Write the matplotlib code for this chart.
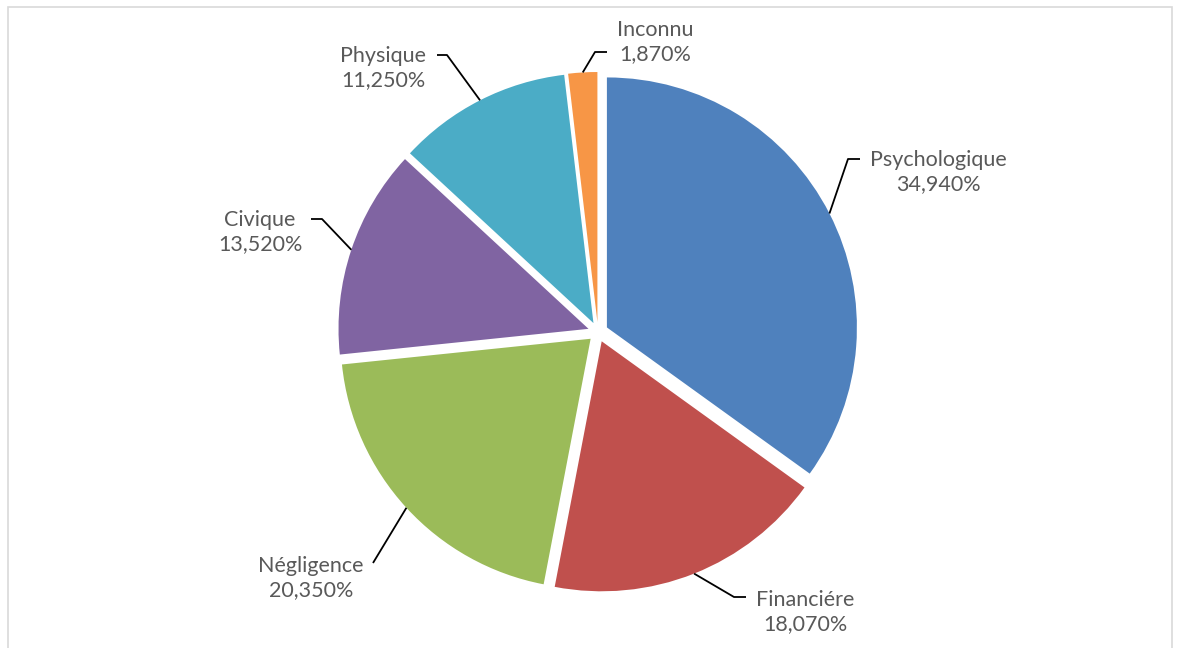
import numpy as np
import matplotlib
matplotlib.use("Agg")
import matplotlib.pyplot as plt
from matplotlib.patches import Rectangle

categories = ["Psychologique", "Financiére", "Négligence", "Civique", "Physique", "Inconnu"]
values = [34.94, 18.07, 20.35, 13.52, 11.25, 1.87]
colors = ["#4F81BD", "#C0504D", "#9BBB59", "#8064A2", "#4BACC6", "#F79646"]

# layout in pixels (y measured from top of image)
W, H = 1181, 648
cx, cy, R = 598, 332, 250
gap = 10
label_pos = [(938, 172), (805, 612), (311, 578), (260, 232), (383, 68), (655, 42)]
elbows = [[(848, 159), (860, 159)], [(734, 597), (746, 597)], [(373, 563)],
          [(322, 219), (311, 219)], [(447, 55), (437, 55)], [(595, 52), (607, 52)]]

fig = plt.figure(figsize=(W / 100, H / 100), dpi=100)
ax = fig.add_axes([0, 0, 1, 1])

ax.pie(values, colors=colors, startangle=90, counterclock=False,
       explode=[gap] * len(values), center=(cx, H - cy), radius=R,
       wedgeprops=dict(linewidth=0), frame=True)
ax.set_xlim(0, W)
ax.set_ylim(0, H)
ax.axis("off")

total = sum(values)
start = 90.0
for i, v in enumerate(values):
    ang = start - v / total * 360 / 2
    start -= v / total * 360
    t = np.deg2rad(ang)
    px = cx + (gap + R) * np.cos(t)
    py = (H - cy) + (gap + R) * np.sin(t)
    pts = [(px, py)] + [(x, H - y) for x, y in elbows[i]]
    xs, ys = zip(*pts)
    ax.plot(xs, ys, color="black", lw=1.3, solid_capstyle="butt")
    lx, ly = label_pos[i]
    ax.text(lx, H - ly, f"{categories[i]}\n{v:.3f}%".replace(".", ","),
            ha="center", va="center", fontsize=15.5, color="#595959",
            family="Lato", linespacing=1.3)

fig.patches.append(Rectangle((8 / W, -0.01), (1172 - 8) / W, 1 - 7 / H + 0.01,
                             transform=fig.transFigure, fill=False,
                             edgecolor="#D9D9D9", lw=1.2))

fig.savefig("out.png", dpi=100)
